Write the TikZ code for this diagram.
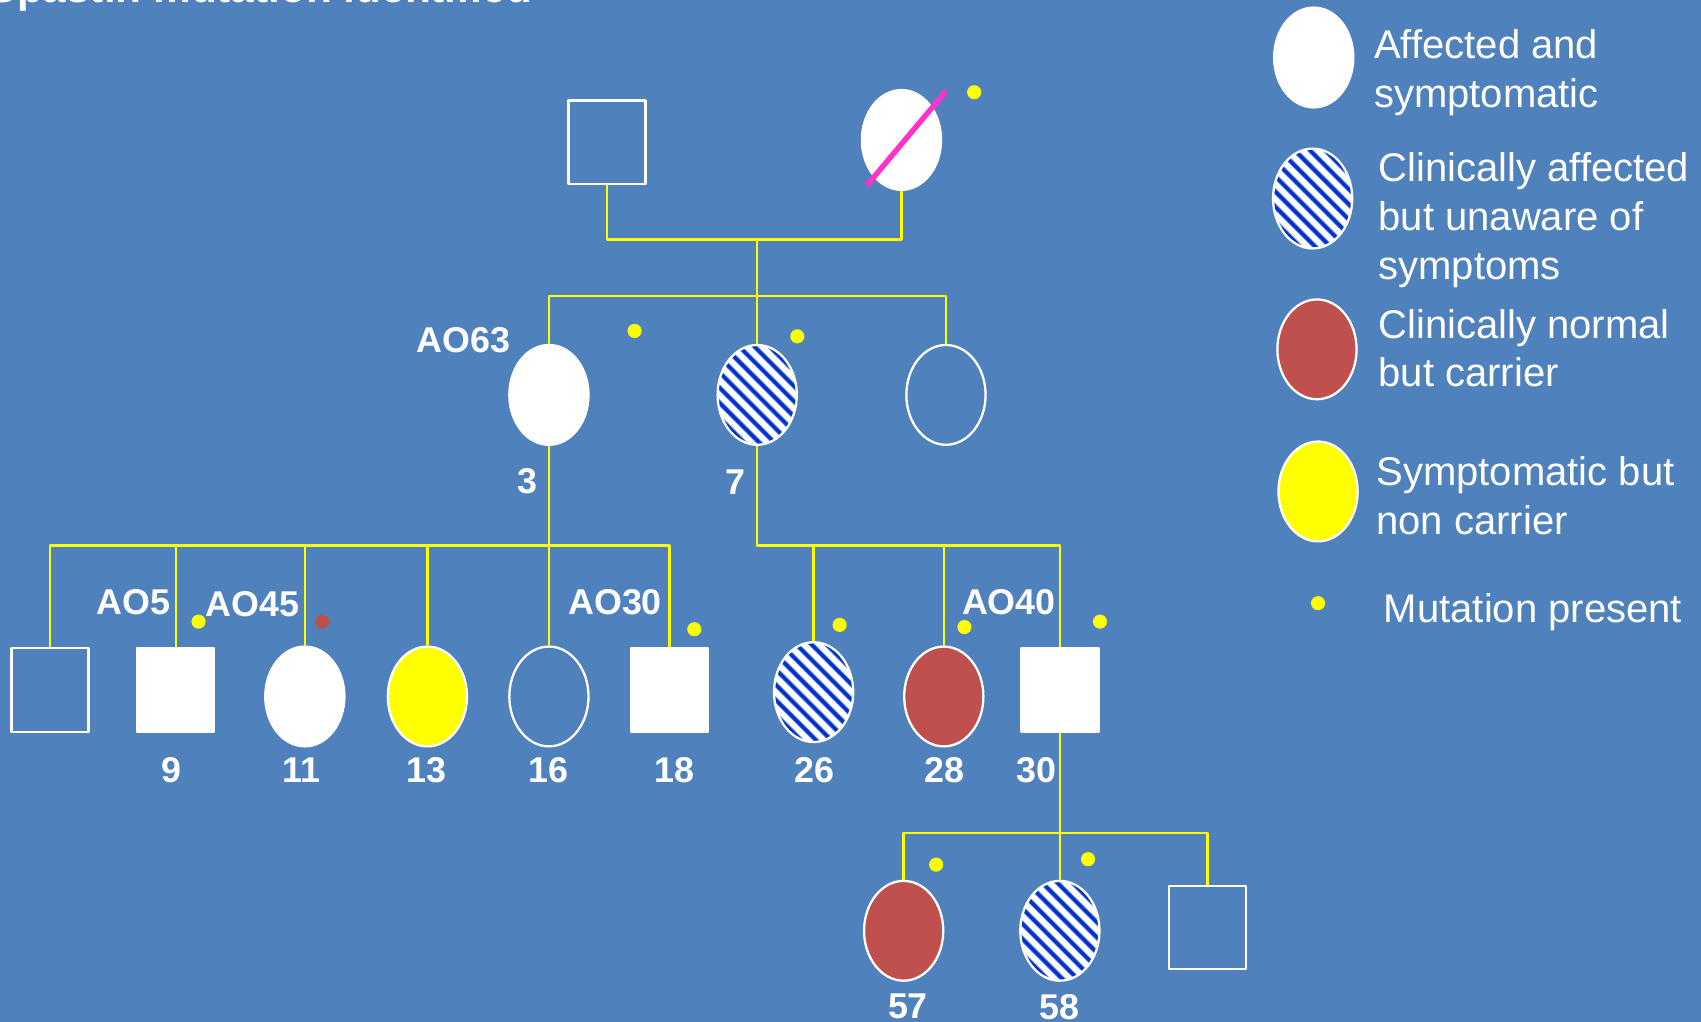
\documentclass[tikz,border=0pt]{standalone}
\usepackage{fontspec}
\setmainfont{Liberation Sans}
\usetikzlibrary{shapes.geometric}
\definecolor{bgblue}{HTML}{4F81BD}
\definecolor{carrier}{HTML}{C0504D}
\definecolor{stripe}{HTML}{0033CC}
\definecolor{slash}{HTML}{FF33CC}
\definecolor{gold}{RGB}{255,255,0}
\begin{document}
\begin{tikzpicture}[x=0.1mm, y=-0.1mm, line join=round,
	kin/.style={gold, line width=0.65pt},
	female/.style={ellipse, minimum width=7.3mm, minimum height=9.2mm, inner sep=0pt, draw=white, line width=0.6pt},
	male/.style={rectangle, minimum width=7.1mm, minimum height=7.7mm, inner sep=0pt, draw=white, line width=0.6pt},
	aff/.style={fill=white},
	carr/.style={fill=carrier},
	nonc/.style={fill=gold},
	hatched/.style={fill=white, path picture={
			\foreach \k in {-5,...,5}
			\draw[stripe!55!white, line width=0.46mm] ([xshift=\k*1.4mm]path picture bounding box.center) ++(-7mm,7mm) -- ++(14mm,-14mm);
			\foreach \k in {-5,...,5}
			\draw[stripe, line width=0.3mm] ([xshift=\k*1.4mm]path picture bounding box.center) ++(-7mm,7mm) -- ++(14mm,-14mm);
	}},
	mut/.style={circle, fill=gold, inner sep=0pt, minimum size=1.3mm},
	num/.style={text=white, font=\fontsize{9.4}{11}\selectfont\bfseries, inner sep=0pt},
	ao/.style={num},
	legtext/.style={text=white, font=\fontsize{10.5}{12.8}\selectfont, align=left, anchor=west, inner sep=0pt}]
	\def\GenA{131}      
	\def\GenB{364}       
	\def\GenC{642}      
	\def\GenD{858}         
	\fill[bgblue] (0,0) rectangle (1568,942);
	\useasboundingbox (0,0) rectangle (1568,942);
	\node[anchor=base west, text=white, font=\fontsize{11.1}{13}\selectfont\bfseries, inner sep=0pt] (title) at (-11,2) {Spastin mutation identified};
	% generation I
	\node[male] (gf) at (559.5,\GenA) {};
	\node[female, aff] (gm) at (831,129) {};
	\draw[slash, line width=0.5mm] ([shift={(-32,42)}]gm.center) -- ([shift={(41,-45)}]gm.center);
	\node[mut] (dgm) at (898,85) {};
	\coordinate (u1) at (698,221);
	\coordinate (s1) at (698,273);
	\coordinate (s2) at (506,503);
	\coordinate (s3) at (698,503);
	\coordinate (s4) at (977,768);
	% generation II
	\node[female, aff] (i3) at (506,\GenB) {};
	\node[female, hatched] (i7) at (698,\GenB) {};
	\node[female] (g2c) at (872,\GenB) {};
	\node[mut] (d3) at (585,305) {};
	\node[mut] (d7) at (735,310) {};
	\node[ao] (l63) at (427,314) {AO63};
	\node[num] (n3) at (486,444) {3};
	\node[num] (n7) at (678,444) {7};
	% generation III
	\node[male] (g3a) at (46,636) {};
	\node[male, aff] (i9) at (162,636) {};
	\node[female, aff] (i11) at (281,\GenC) {};
	\node[female, nonc] (i13) at (394,\GenC) {};
	\node[female] (i16) at (506,\GenC) {};
	\node[male, aff] (i18) at (617,636) {};
	\node[female, hatched] (i26) at (750,638) {};
	\node[female, carr] (i28) at (870,\GenC) {};
	\node[male, aff] (i30) at (977,636) {};
	\node[mut] (d9) at (183,573) {};
	\node[mut, fill=carrier] (d11) at (297,573) {};
	\node[mut] (d18) at (640,580) {};
	\node[mut] (d26) at (774,576) {};
	\node[mut] (d28) at (889,578) {};
	\node[mut] (d30) at (1014,573) {};
	\node[ao] (l5) at (123,555) {AO5};
	\node[ao] (l45) at (233,557) {AO45};
	\node[ao] (l30) at (567,555) {AO30};
	\node[ao] (l40) at (930,555) {AO40};
	\foreach \n/\t/\x in {n9/9/158, n11/11/278, n13/13/393, n16/16/506, n18/18/622, n26/26/751, n28/28/871, n30/30/955}
	\node[num] (\n) at (\x,710) {\t};
	% generation IV
	\node[female, carr] (i57) at (833,\GenD) {};
	\node[female, hatched] (i58) at (977,\GenD) {};
	\node[male] (g4c) at (1113,855) {};
	\node[mut] (d57) at (863,797) {};
	\node[mut] (d58) at (1003,792) {};
	\node[num] (n57) at (837,928) {57};
	\node[num] (n58) at (977,928) {58};
	% lines of descent
	\draw[kin] (gf.south) -- ++(0,50) -| (gm.south);
	\draw[kin] (u1) -- (i7.north);
	\draw[kin] (i3.north) |- (g2c.north |- s1) -- (g2c.north);
	\draw[kin] (i3.south) -- (s2);
	\draw[kin] (g3a.north) |- (i18.north |- s2) -- (i18.north);
	\foreach \n in {i9, i11, i13, i16}
	\draw[kin] (\n.north) -- (\n.north |- s2);
	\draw[kin] (i7.south) -- (s3) -| (i30.north);
	\foreach \n in {i26, i28}
	\draw[kin] (\n.north) -- (\n.north |- s3);
	\draw[kin] (i30.south) -- (s4);
	\draw[kin] (i57.north) |- (g4c.north |- s4) -- (g4c.north);
	\draw[kin] (i58.north) -- (s4);
	% key
	\node[female, aff] (k1) at (1211,53) {};
	\node[female, hatched] (k2) at (1210,183) {};
	\node[female, carr] (k3) at (1214,322) {};
	\node[female, nonc] (k4) at (1215,453) {};
	\node[mut] (k5) at (1215,556) {};
	\node[legtext] (t1) at (1266,67) {Affected and\\symptomatic};
	\node[legtext] (t2) at (1270,203) {Clinically affected\\but unaware of\\symptoms};
	\node[legtext] (t3) at (1270,321) {Clinically normal\\but carrier};
	\node[legtext] (t4) at (1268,457) {Symptomatic but\\non carrier};
	\node[legtext] (t5) at (1275,564) {Mutation present};
\end{tikzpicture}
\end{document}
